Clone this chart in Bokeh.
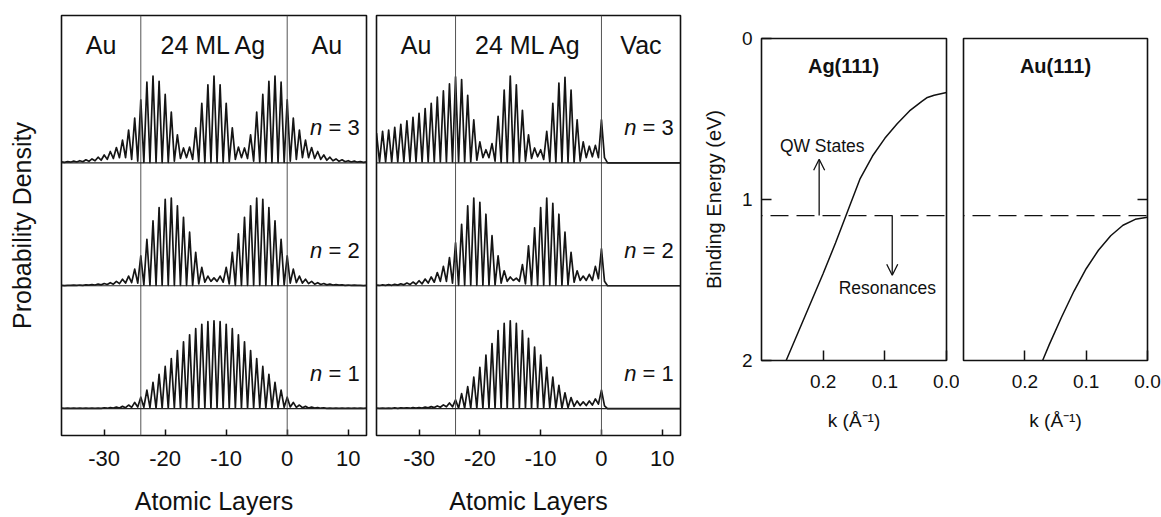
from bokeh.plotting import figure
from bokeh.layouts import row, column
from bokeh.models import Range1d, FixedTicker, Span, Arrow, OpenHead, LinearAxis, PrintfTickFormatter, Spacer
from bokeh.core.properties import value
from bokeh.embed import file_html
from bokeh.resources import INLINE

FONT = "Liberation Sans"

# ---------------- data: probability density panels ----------------
layers = list(range(-37, 14))          # atomic layer index (peak positions)
interfaces = [-24, 0]                   # Au/Ag and Ag/Au (or Ag/Vac) interfaces
x_ticks = [-30, -20, -10, 0, 10]
x_tick_labels = ["-30", "-20", "-10", "0", "10"]
state_numbers = [1, 2, 3]

regions_left = ["Au", "24 ML Ag", "Au"]
regions_right = ["Au", "24 ML Ag", "Vac"]

# Au | 24 ML Ag | Au   -- peak heights at each layer, trough heights between layers
aaa_n1_peak = [0.004, 0.004, 0.004, 0.004, 0.005, 0.005, 0.006, 0.008, 0.011, 0.016,
               0.025, 0.04, 0.07, 0.13, 0.21, 0.30, 0.39, 0.48, 0.57, 0.66,
               0.76, 0.84, 0.91, 0.96, 0.99, 1.0, 0.99, 0.96, 0.91, 0.84,
               0.76, 0.66, 0.57, 0.48, 0.39, 0.30, 0.21, 0.13, 0.07, 0.04,
               0.025, 0.016, 0.011, 0.008, 0.006, 0.005, 0.005, 0.004, 0.004, 0.004,
               0.004]
aaa_n1_trough = [0.002, 0.002, 0.002, 0.002, 0.002, 0.002, 0.002, 0.004, 0.005, 0.007,
                 0.01, 0.014, 0.018, 0.015, 0.01, 0.004, 0.004, 0.004, 0.004, 0.004,
                 0.004, 0.004, 0.004, 0.004, 0.004, 0.004, 0.004, 0.004, 0.004, 0.004,
                 0.004, 0.004, 0.004, 0.004, 0.004, 0.01, 0.015, 0.018, 0.014, 0.01,
                 0.007, 0.005, 0.004, 0.002, 0.002, 0.002, 0.002, 0.002, 0.002, 0.002]
aaa_n2_peak = [0.004, 0.005, 0.006, 0.008, 0.01, 0.013, 0.018, 0.025, 0.035, 0.05,
               0.075, 0.11, 0.19, 0.34, 0.53, 0.74, 0.89, 0.985, 1.0, 0.91,
               0.78, 0.61, 0.38, 0.21, 0.11, 0.09, 0.11, 0.21, 0.38, 0.59,
               0.78, 0.91, 1.0, 0.985, 0.89, 0.74, 0.53, 0.34, 0.19, 0.11,
               0.075, 0.05, 0.035, 0.025, 0.018, 0.013, 0.01, 0.008, 0.006, 0.005,
               0.004]
aaa_n2_trough = [0.002, 0.003, 0.004, 0.005, 0.006, 0.008, 0.01, 0.014, 0.018, 0.024,
                 0.03, 0.035, 0.03, 0.01, 0.004, 0.004, 0.004, 0.004, 0.004, 0.004,
                 0.004, 0.004, 0.02, 0.04, 0.05, 0.05, 0.04, 0.02, 0.004, 0.004,
                 0.004, 0.004, 0.004, 0.004, 0.004, 0.004, 0.01, 0.03, 0.035, 0.03,
                 0.024, 0.018, 0.014, 0.01, 0.008, 0.006, 0.005, 0.004, 0.003, 0.002]
aaa_n3_peak = [0.012, 0.015, 0.02, 0.025, 0.035, 0.045, 0.065, 0.09, 0.13, 0.175,
               0.26, 0.375, 0.51, 0.72, 0.92, 0.99, 0.93, 0.78, 0.58, 0.32,
               0.17, 0.18, 0.4, 0.68, 0.89, 0.99, 0.89, 0.68, 0.4, 0.18,
               0.17, 0.32, 0.58, 0.78, 0.93, 0.99, 0.92, 0.72, 0.51, 0.375,
               0.26, 0.175, 0.13, 0.09, 0.065, 0.045, 0.035, 0.025, 0.02, 0.015,
               0.012]
aaa_n3_trough = [0.006, 0.008, 0.01, 0.013, 0.018, 0.024, 0.03, 0.04, 0.05, 0.06,
                 0.06, 0.04, 0.02, 0.005, 0.004, 0.004, 0.004, 0.006, 0.02, 0.05,
                 0.06, 0.04, 0.01, 0.004, 0.004, 0.004, 0.004, 0.01, 0.04, 0.06,
                 0.05, 0.02, 0.006, 0.004, 0.004, 0.004, 0.005, 0.02, 0.04, 0.06,
                 0.06, 0.05, 0.04, 0.03, 0.024, 0.018, 0.013, 0.01, 0.008, 0.006]

# Au | 24 ML Ag | Vacuum
aav_n1_peak = [0.004, 0.005, 0.006, 0.007, 0.008, 0.009, 0.01, 0.012, 0.016, 0.022,
               0.03, 0.042, 0.064, 0.1, 0.17, 0.25, 0.36, 0.47, 0.61, 0.74,
               0.89, 0.97, 1.0, 0.97, 0.89, 0.8, 0.7, 0.61, 0.47, 0.36,
               0.265, 0.18, 0.125, 0.087, 0.076, 0.087, 0.11, 0.21, 0.0, 0.0,
               0.0, 0.0, 0.0, 0.0, 0.0, 0.0, 0.0, 0.0, 0.0, 0.0,
               0.0]
aav_n1_trough = [0.002, 0.002, 0.003, 0.003, 0.004, 0.004, 0.005, 0.006, 0.008, 0.011,
                 0.015, 0.02, 0.02, 0.004, 0.004, 0.004, 0.004, 0.004, 0.004, 0.004,
                 0.004, 0.004, 0.004, 0.004, 0.004, 0.004, 0.004, 0.004, 0.004, 0.004,
                 0.004, 0.01, 0.025, 0.035, 0.035, 0.04, 0.05, 0.03, 0.0, 0.0,
                 0.0, 0.0, 0.0, 0.0, 0.0, 0.0, 0.0, 0.0, 0.0, 0.0]
aav_n2_peak = [0.007, 0.009, 0.012, 0.016, 0.022, 0.03, 0.042, 0.057, 0.076, 0.1,
               0.15, 0.22, 0.32, 0.49, 0.7, 0.91, 1.0, 0.95, 0.815, 0.57,
               0.34, 0.17, 0.1, 0.087, 0.24, 0.455, 0.66, 0.89, 1.0, 0.94,
               0.815, 0.61, 0.38, 0.17, 0.11, 0.13, 0.22, 0.42, 0.0, 0.0,
               0.0, 0.0, 0.0, 0.0, 0.0, 0.0, 0.0, 0.0, 0.0, 0.0,
               0.0]
aav_n2_trough = [0.003, 0.004, 0.005, 0.007, 0.01, 0.013, 0.017, 0.022, 0.03, 0.04,
                 0.05, 0.05, 0.03, 0.005, 0.005, 0.005, 0.005, 0.005, 0.005, 0.01,
                 0.03, 0.05, 0.06, 0.05, 0.02, 0.005, 0.005, 0.005, 0.005, 0.005,
                 0.005, 0.01, 0.04, 0.06, 0.06, 0.06, 0.08, 0.05, 0.0, 0.0,
                 0.0, 0.0, 0.0, 0.0, 0.0, 0.0, 0.0, 0.0, 0.0, 0.0]
aav_n3_peak = [0.34, 0.36, 0.375, 0.405, 0.44, 0.48, 0.52, 0.565, 0.62, 0.68,
               0.75, 0.82, 0.9, 0.98, 0.95, 0.77, 0.49, 0.24, 0.15, 0.22,
               0.53, 0.83, 0.99, 0.89, 0.6, 0.32, 0.17, 0.15, 0.36, 0.68,
               0.91, 0.975, 0.83, 0.49, 0.24, 0.19, 0.2, 0.49, 0.0, 0.0,
               0.0, 0.0, 0.0, 0.0, 0.0, 0.0, 0.0, 0.0, 0.0, 0.0,
               0.0]
aav_n3_trough = [0.01, 0.01, 0.01, 0.01, 0.01, 0.01, 0.01, 0.01, 0.01, 0.01,
                 0.01, 0.01, 0.01, 0.01, 0.01, 0.01, 0.03, 0.06, 0.06, 0.02,
                 0.005, 0.005, 0.005, 0.005, 0.02, 0.05, 0.07, 0.04, 0.01, 0.005,
                 0.005, 0.005, 0.005, 0.02, 0.06, 0.07, 0.06, 0.06, 0.0, 0.0,
                 0.0, 0.0, 0.0, 0.0, 0.0, 0.0, 0.0, 0.0, 0.0, 0.0]

# ---------------- data: band dispersion panels ----------------
ag_k = [0.0, 0.02, 0.031, 0.04, 0.06, 0.08, 0.10, 0.12, 0.14, 0.16, 0.18, 0.20, 0.22, 0.24, 0.26]
ag_E = [0.335, 0.352, 0.366, 0.39, 0.45, 0.53, 0.62, 0.73, 0.87, 1.07, 1.27, 1.46, 1.64, 1.82, 2.0]
au_k = [0.0, 0.02, 0.04, 0.06, 0.08, 0.10, 0.12, 0.14, 0.16, 0.171]
au_E = [1.11, 1.123, 1.16, 1.225, 1.315, 1.43, 1.57, 1.73, 1.90, 2.0]
threshold_E = 1.1                       # QW states / resonances boundary
qw_arrow = {"k": 0.2065, "E_end": 0.75}
res_arrow = {"k": 0.088, "E_end": 1.47}
E_ticks = [0, 1, 2]
k_ticks = [0.0, 0.1, 0.2]

OFFSET_STEP = 1.4
LEFT_X = (-37, 13)
LEFT_Y = (-0.307, 4.48)


def style_common(p):
    p.xgrid.visible = False
    p.ygrid.visible = False
    p.outline_line_color = "#111111"
    p.outline_line_width = 1.6
    p.outline_line_alpha = 1.0
    p.background_fill_color = "white"
    p.border_fill_color = "white"


def density_panel(width, left, right, regions, curves, ylabel):
    p = figure(width=width, height=517, x_range=Range1d(*LEFT_X), y_range=Range1d(*LEFT_Y),
               output_backend="svg", toolbar_location=None,
               min_border_left=left, min_border_right=right, min_border_top=15, min_border_bottom=81,
               y_axis_location="left" if ylabel else None)
    style_common(p)
    ax = p.xaxis[0]
    ax.ticker = FixedTicker(ticks=x_ticks)
    ax.major_label_overrides = {t: s for t, s in zip(x_ticks, x_tick_labels)}
    ax.major_tick_in = 6
    ax.major_tick_out = 0
    ax.major_tick_line_color = "#111111"
    ax.major_tick_line_width = 1.5
    ax.minor_tick_line_color = None
    ax.axis_line_color = None
    ax.major_label_text_font = FONT
    ax.major_label_text_font_size = "22px"
    ax.major_label_text_color = "#111111"
    ax.major_label_text_line_height = 1.0
    ax.major_label_standoff = 15
    ax.axis_label = "Atomic Layers"
    ax.axis_label_text_font = FONT
    ax.axis_label_text_font_size = "25px"
    ax.axis_label_text_font_style = "normal"
    ax.axis_label_text_color = "#111111"
    ax.axis_label_text_line_height = 1.0
    ax.axis_label_standoff = 18
    if ylabel:
        ay = p.yaxis[0]
        ay.ticker = FixedTicker(ticks=[])
        ay.major_tick_line_color = None
        ay.minor_tick_line_color = None
        ay.axis_line_color = None
        ay.major_label_standoff = 0
        ay.axis_label = ylabel
        ay.axis_label_text_font = FONT
        ay.axis_label_text_font_size = "25px"
        ay.axis_label_text_font_style = "normal"
        ay.axis_label_text_color = "#111111"
        ay.axis_label_standoff = 26

    for xi in interfaces:
        p.add_layout(Span(location=xi, dimension="height", line_color="#555555", line_width=1))

    for idx, (n, (peak, trough)) in enumerate(zip(state_numbers, curves)):
        off = idx * OFFSET_STEP
        p.add_layout(Span(location=off, dimension="width", line_color="#222222", line_width=1.2))
        xs, ys = [], []
        for i, L in enumerate(layers):
            xs.append(L)
            ys.append(off + peak[i])
            if i < len(trough):
                xs.append(L + 0.5)
                ys.append(off + trough[i])
        p.line(xs, ys, line_color="#151515", line_width=1.7, line_join="round")
        p.text(x=[5.75], y=[off + 0.4], text=["n"], text_font=value(FONT), text_font_size=value("22px"),
               text_font_style="italic", text_align="right", text_baseline="middle", text_color="#111111")
        p.text(x=[11.9], y=[off + 0.4], text=[f"= {n}"], text_font=value(FONT), text_font_size=value("22px"),
               text_align="right", text_baseline="middle", text_color="#111111")

    bounds = [LEFT_X[0]] + interfaces + [LEFT_X[1]]
    centers = [(bounds[i] + bounds[i + 1]) / 2 for i in range(len(regions))]
    p.text(x=centers, y=[4.14] * len(regions), text=regions, text_font=value(FONT),
           text_font_size=value("25px"), text_align="center", text_baseline="middle", text_color="#111111")
    return p


BAND_TOP_GAP = 2     # offsets the band panels so their frames are laid out independently


def band_panel(width, left, right, k, E, name, name_k, show_left):
    p = figure(width=width, height=517 - BAND_TOP_GAP - 1, x_range=Range1d(0.3, 0.0), y_range=Range1d(2.0, 0.0),
               output_backend="svg", toolbar_location=None,
               min_border_left=left, min_border_right=right,
               min_border_top=38 - BAND_TOP_GAP, min_border_bottom=517 - 360 - 1,
               y_axis_location="left" if show_left else None)
    style_common(p)
    ax = p.xaxis[0]
    ax.ticker = FixedTicker(ticks=k_ticks)
    ax.formatter = PrintfTickFormatter(format="%.1f")
    ax.major_tick_in = 10
    ax.major_tick_out = 0
    ax.major_tick_line_color = "#111111"
    ax.major_tick_line_width = 1.5
    ax.minor_tick_line_color = None
    ax.axis_line_color = None
    ax.major_label_text_font = FONT
    ax.major_label_text_font_size = "19px"
    ax.major_label_text_color = "#111111"
    ax.major_label_standoff = 14
    ax.axis_label = "k (Å⁻¹)"
    ax.axis_label_text_font = FONT
    ax.axis_label_text_font_size = "19px"
    ax.axis_label_text_font_style = "normal"
    ax.axis_label_text_color = "#111111"
    ax.axis_label_standoff = 19
    if show_left:
        ay = p.yaxis[0]
        ay.ticker = FixedTicker(ticks=E_ticks)
        ay.major_tick_in = 10
        ay.major_tick_out = 0
        ay.major_tick_line_color = "#111111"
        ay.major_tick_line_width = 1.5
        ay.minor_tick_line_color = None
        ay.axis_line_color = None
        ay.major_label_text_font = FONT
        ay.major_label_text_font_size = "19px"
        ay.major_label_text_color = "#111111"
        ay.major_label_standoff = 9
        ay.axis_label = "Binding Energy (eV)"
        ay.axis_label_text_font = FONT
        ay.axis_label_text_font_size = "20px"
        ay.axis_label_text_font_style = "normal"
        ay.axis_label_text_color = "#111111"
        ay.axis_label_standoff = 14
    else:
        ar = LinearAxis(ticker=FixedTicker(ticks=[1]), major_tick_in=10, major_tick_out=0,
                        major_tick_line_color="#111111", major_tick_line_width=1.5,
                        minor_tick_line_color=None, axis_line_color=None,
                        major_label_overrides={1: ""}, major_label_standoff=0)
        p.add_layout(ar, "right")

    p.line([0.3, 0.0], [threshold_E, threshold_E], line_color="#111111", line_width=1.4,
           line_dash="18 8", line_dash_offset=17)
    p.line(k, E, line_color="#111111", line_width=1.5)
    p.text(x=[name_k], y=[0.17], text=[name], text_font=value(FONT), text_font_size=value("20px"),
           text_font_style="bold", text_align="center", text_baseline="middle", text_color="#111111")
    return p


f1 = density_panel(371, 61, 5, regions_left,
                   [(aaa_n1_peak, aaa_n1_trough), (aaa_n2_peak, aaa_n2_trough), (aaa_n3_peak, aaa_n3_trough)],
                   "Probability Density")
f2 = density_panel(319, 5, 10, regions_right,
                   [(aav_n1_peak, aav_n1_trough), (aav_n2_peak, aav_n2_trough), (aav_n3_peak, aav_n3_trough)],
                   None)
f3 = band_panel(269, 71, 13, ag_k, ag_E, "Ag(111)", 0.167, True)
f4 = band_panel(202, 4, 14, au_k, au_E, "Au(111)", 0.15, False)

f3.add_layout(Arrow(end=OpenHead(size=11, line_width=1.3, line_color="#111111"),
                    x_start=qw_arrow["k"], y_start=threshold_E, x_end=qw_arrow["k"], y_end=qw_arrow["E_end"],
                    line_width=1.3, line_color="#111111"))
f3.add_layout(Arrow(end=OpenHead(size=11, line_width=1.3, line_color="#111111"),
                    x_start=res_arrow["k"], y_start=threshold_E, x_end=res_arrow["k"], y_end=res_arrow["E_end"],
                    line_width=1.3, line_color="#111111"))
f3.text(x=[0.2016], y=[0.67], text=["QW States"], text_font=value(FONT), text_font_size=value("17.5px"),
        text_align="center", text_baseline="middle", text_color="#111111")
f3.text(x=[0.096], y=[1.55], text=["Resonances"], text_font=value(FONT), text_font_size=value("17.5px"),
        text_align="center", text_baseline="middle", text_color="#111111")

right_block = column(Spacer(width=471, height=BAND_TOP_GAP), row(f3, f4))
layout = row(f1, f2, right_block)
open("out.html", "w").write(file_html(layout, INLINE))
